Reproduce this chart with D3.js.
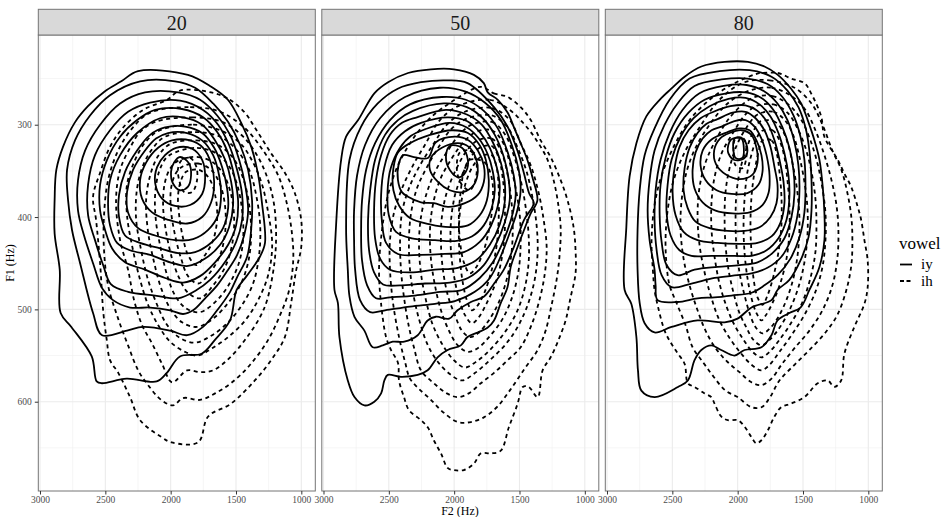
<!DOCTYPE html>
<html><head><meta charset="utf-8">
<script src="https://cdn.jsdelivr.net/npm/d3@7"></script>
<style>body{margin:0;background:#fff;}svg{display:block;font-family:"Liberation Serif","Times New Roman",serif;}</style>
</head><body><svg id="chart" width="949" height="517"></svg>
<script>
const facets = ["20","50","80"];
const vowels = ["iy","ih"];
const xTicks = [3000,2500,2000,1500,1000];
const yTicks = [300,400,500,600];
const xMinor = [2750,2250,1750,1250];
const yMinor = [250,350,450,550,650];

// contour rings [F2, F1] per facet & vowel
const iy20 = [
[[2250,242],[1868,246],[1689,259],[1562,273],[1460,298],[1383,324],[1332,353],[1301,385],[1278,428],[1317,443],[1419,464],[1495,479],[1546,512],[1661,533],[1763,548],[1929,551],[2031,569],[2107,578],[2337,575],[2528,580],[2566,578],[2604,551],[2760,519],[2842,504],[2849,457],[2888,418],[2888,381],[2875,349],[2824,324],[2735,298],[2633,280],[2505,264],[2378,253]],
[[2234,253],[1966,253],[1813,260],[1675,277],[1560,297],[1468,322],[1407,349],[1377,382],[1384,414],[1415,443],[1491,465],[1545,481],[1644,501],[1752,519],[1874,528],[2004,523],[2211,519],[2334,523],[2525,528],[2594,504],[2693,450],[2755,414],[2785,382],[2793,349],[2732,317],[2617,290],[2464,268]],
[[2196,265],[1943,265],[1775,273],[1644,290],[1545,311],[1476,338],[1430,365],[1407,393],[1438,420],[1491,441],[1560,457],[1644,474],[1736,488],[1828,501],[1905,505],[2004,501],[2157,498],[2311,498],[2441,490],[2525,477],[2594,450],[2663,420],[2709,393],[2709,360],[2655,328],[2540,300],[2387,277]],
[[2157,276],[1928,274],[1752,284],[1637,300],[1553,322],[1491,349],[1453,376],[1453,403],[1499,427],[1576,447],[1698,468],[1813,480],[1943,488],[2119,485],[2326,481],[2456,473],[2517,452],[2579,425],[2632,398],[2632,365],[2579,333],[2464,306],[2326,286]],
[[2119,284],[1913,283],[1752,292],[1644,308],[1568,328],[1514,355],[1484,382],[1499,409],[1560,430],[1660,449],[1775,464],[1905,471],[2043,466],[2196,457],[2349,449],[2448,434],[2502,414],[2540,393],[2540,365],[2487,338],[2387,313],[2257,295]],
[[2081,293],[1905,292],[1759,300],[1660,317],[1583,338],[1537,362],[1522,387],[1553,411],[1621,430],[1736,445],[1867,453],[2004,449],[2157,441],[2311,436],[2410,428],[2464,409],[2479,387],[2464,360],[2387,333],[2257,309]],
[[2043,303],[1890,302],[1759,309],[1667,325],[1606,346],[1568,369],[1560,390],[1599,412],[1683,427],[1813,438],[1943,439],[2081,434],[2234,428],[2349,420],[2395,400],[2395,376],[2349,351],[2257,328],[2157,311]],
[[2020,309],[1874,309],[1759,317],[1675,333],[1629,355],[1614,376],[1637,398],[1713,414],[1828,424],[1966,425],[2119,420],[2249,412],[2326,395],[2334,373],[2288,349],[2196,328],[2112,315]],
[[1989,317],[1851,317],[1752,325],[1690,342],[1667,362],[1690,384],[1759,400],[1874,407],[2020,403],[2142,395],[2219,380],[2234,360],[2188,341],[2096,325]],
[[1958,325],[1836,326],[1759,338],[1736,357],[1759,375],[1851,387],[1966,388],[2066,380],[2119,363],[2104,346],[2043,333]],
[[1928,335],[1859,342],[1844,355],[1867,367],[1928,371],[1981,364],[1997,351],[1974,341]]
];
const ih20 = [
[[1690,265],[1547,273],[1432,287],[1356,303],[1231,331],[1126,352],[1050,374],[1001,403],[1001,433],[1040,458],[1078,493],[1126,530],[1231,555],[1356,577],[1537,602],[1713,616],[1790,644],[1994,644],[2073,638],[2234,620],[2311,595],[2400,569],[2464,555],[2489,533],[2515,504],[2540,450],[2571,403],[2594,378],[2540,352],[2464,324],[2364,303],[2211,284],[2027,273],[1928,263]],
[[2157,287],[1851,281],[1621,286],[1430,304],[1292,328],[1177,355],[1108,387],[1070,420],[1062,447],[1093,479],[1162,506],[1254,533],[1392,560],[1530,579],[1660,591],[1775,598],[1905,596],[1981,604],[2073,598],[2173,582],[2249,566],[2326,539],[2402,510],[2479,474],[2510,436],[2510,398],[2479,360],[2402,328],[2295,304]],
[[2119,297],[1836,292],[1606,297],[1445,313],[1331,335],[1254,360],[1208,387],[1193,420],[1208,452],[1262,490],[1315,508],[1415,530],[1545,552],[1675,566],[1775,568],[1874,566],[1989,579],[2066,559],[2142,537],[2219,517],[2280,490],[2326,457],[2387,425],[2418,382],[2387,349],[2311,325],[2234,308]],
[[2081,306],[1828,300],[1621,306],[1468,320],[1369,341],[1300,365],[1254,395],[1223,430],[1254,463],[1331,490],[1430,512],[1560,530],[1683,542],[1790,550],[1890,546],[2004,535],[2096,517],[2173,495],[2234,468],[2288,436],[2334,398],[2334,365],[2272,338],[2188,318]],
[[2043,313],[1813,308],[1621,313],[1491,328],[1399,349],[1346,376],[1315,409],[1323,441],[1369,472],[1453,495],[1560,514],[1683,528],[1813,536],[1928,531],[2027,517],[2104,495],[2173,468],[2226,436],[2265,401],[2257,369],[2211,344],[2134,325]],
[[2004,321],[1805,317],[1637,322],[1522,336],[1445,358],[1399,387],[1384,420],[1407,449],[1468,474],[1560,493],[1675,510],[1798,519],[1913,514],[2004,499],[2073,477],[2127,449],[2173,416],[2188,382],[2157,355],[2096,334]],
[[1966,330],[1798,325],[1652,331],[1553,345],[1491,365],[1453,393],[1445,423],[1476,449],[1545,471],[1644,490],[1775,503],[1882,499],[1966,485],[2027,463],[2073,436],[2112,405],[2119,376],[2089,351],[2035,336]],
[[1928,338],[1790,335],[1675,341],[1591,355],[1537,376],[1514,403],[1530,430],[1583,454],[1675,474],[1775,488],[1867,482],[1935,466],[1989,445],[2035,416],[2058,387],[2043,362],[1997,346]],
[[1905,345],[1790,342],[1690,349],[1621,365],[1583,389],[1583,416],[1621,441],[1698,460],[1790,472],[1867,464],[1920,445],[1966,420],[1997,393],[1997,369],[1958,352]],
[[1882,351],[1782,349],[1706,358],[1660,376],[1644,401],[1675,425],[1736,441],[1805,452],[1867,441],[1905,423],[1935,398],[1943,376],[1920,360]],
[[1913,338],[1851,336],[1805,345],[1798,360],[1836,373],[1897,373],[1935,360],[1943,347]]
];
const iy50 = [
[[2916,479],[2903,407],[2865,338],[2827,313],[2735,295],[2611,266],[2506,254],[2353,244],[2178,240],[2002,240],[1849,246],[1773,255],[1743,265],[1666,273],[1590,287],[1542,303],[1491,320],[1440,338],[1401,357],[1363,382],[1414,396],[1465,414],[1516,433],[1567,454],[1592,476],[1643,493],[1695,512],[1745,520],[1821,525],[1898,530],[1949,539],[2050,544],[2127,552],[2203,566],[2279,571],[2407,573],[2508,571],[2534,577],[2559,591],[2611,600],[2687,604],[2763,595],[2814,577],[2878,530],[2890,493]],
[[2814,457],[2801,486],[2763,508],[2687,523],[2623,541],[2546,539],[2470,535],[2382,535],[2279,528],[2203,512],[2140,508],[2038,510],[1974,501],[1872,492],[1771,486],[1694,472],[1620,457],[1542,432],[1465,403],[1391,385],[1427,374],[1465,353],[1516,328],[1592,302],[1695,281],[1898,255],[2050,252],[2254,254],[2432,261],[2585,277],[2712,302],[2801,338],[2827,411]],
[[2376,270],[2109,260],[1918,264],[1766,276],[1643,295],[1559,322],[1506,349],[1491,371],[1521,395],[1582,420],[1651,445],[1727,466],[1842,481],[1995,491],[2147,494],[2338,497],[2529,501],[2643,503],[2720,490],[2758,457],[2766,425],[2766,393],[2743,355],[2682,322],[2567,293]],
[[2338,278],[2094,270],[1911,273],[1773,285],[1666,304],[1590,330],[1544,355],[1529,376],[1559,400],[1621,425],[1704,449],[1804,466],[1941,479],[2109,481],[2300,485],[2491,487],[2598,488],[2666,474],[2705,447],[2712,414],[2705,382],[2674,349],[2605,320],[2491,295]],
[[2315,285],[2079,277],[1903,281],[1781,293],[1689,311],[1620,335],[1582,360],[1575,382],[1613,406],[1682,430],[1773,452],[1895,466],[2033,471],[2224,472],[2414,474],[2544,473],[2613,460],[2651,436],[2659,403],[2643,371],[2605,338],[2529,311],[2430,295]],
[[2285,292],[2063,284],[1903,289],[1789,300],[1704,319],[1643,341],[1613,362],[1613,384],[1651,408],[1727,430],[1834,447],[1972,455],[2147,457],[2338,460],[2491,457],[2567,445],[2605,423],[2613,393],[2598,360],[2559,333],[2491,311],[2399,298]],
[[2254,298],[2048,292],[1903,296],[1804,308],[1727,325],[1674,346],[1651,367],[1666,388],[1720,410],[1804,427],[1926,438],[2071,440],[2262,441],[2430,440],[2521,428],[2552,406],[2559,376],[2536,347],[2475,322],[2376,307]],
[[2224,305],[2033,298],[1903,303],[1811,315],[1743,332],[1704,351],[1689,371],[1712,390],[1773,409],[1865,421],[1995,426],[2147,425],[2323,423],[2445,416],[2500,398],[2510,373],[2485,347],[2414,325],[2330,312]],
[[2185,311],[2017,306],[1895,309],[1811,321],[1758,338],[1735,360],[1750,382],[1804,398],[1895,409],[2033,411],[2185,408],[2338,401],[2420,388],[2465,371],[2465,347],[2430,330],[2338,320]],
[[2140,319],[1995,313],[1888,317],[1819,328],[1773,344],[1773,362],[1819,376],[1918,385],[2048,389],[2155,385],[2254,384],[2353,378],[2400,373],[2430,360],[2425,343],[2390,333],[2308,335],[2201,336]],
[[2094,325],[1972,320],[1888,324],[1834,336],[1819,351],[1849,365],[1934,373],[2033,371],[2124,362],[2185,349],[2178,336]],
[[2033,323],[1941,325],[1895,338],[1911,351],[1964,357],[2033,349],[2063,335]]
];
const ih50 = [
[[1796,259],[1697,266],[1590,270],[1491,281],[1414,295],[1338,317],[1262,335],[1185,360],[1132,382],[1086,411],[1071,436],[1071,461],[1109,487],[1147,512],[1201,533],[1262,552],[1323,566],[1361,595],[1430,584],[1475,584],[1514,602],[1582,628],[1643,653],[1720,656],[1796,656],[1849,667],[1926,674],[2002,674],[2048,672],[2101,656],[2155,642],[2201,628],[2254,620],[2346,609],[2384,595],[2422,577],[2430,558],[2483,544],[2521,530],[2560,493],[2575,457],[2552,414],[2506,376],[2430,344],[2323,317],[2185,293],[1995,273]],
[[1956,279],[1727,273],[1575,284],[1460,300],[1369,317],[1285,338],[1239,360],[1208,382],[1185,411],[1193,441],[1216,468],[1254,495],[1300,523],[1361,544],[1460,564],[1575,588],[1674,606],[1773,617],[1872,622],[1972,622],[2079,612],[2178,598],[2277,585],[2338,575],[2376,557],[2422,530],[2468,493],[2491,457],[2491,425],[2460,395],[2399,369],[2315,344],[2224,322],[2109,295]],
[[1918,286],[1712,282],[1575,295],[1491,320],[1414,344],[1353,374],[1315,403],[1292,433],[1308,463],[1353,493],[1414,519],[1491,541],[1590,555],[1697,569],[1796,580],[1888,591],[1972,595],[2056,591],[2155,580],[2254,566],[2308,541],[2346,519],[2384,487],[2407,457],[2414,425],[2399,395],[2346,369],[2262,344],[2163,322],[2056,300]],
[[1895,293],[1712,290],[1590,303],[1514,325],[1445,351],[1399,380],[1369,409],[1361,438],[1384,468],[1437,495],[1514,519],[1613,539],[1727,555],[1842,569],[1941,577],[2033,570],[2124,557],[2201,539],[2262,514],[2308,487],[2338,457],[2346,425],[2330,396],[2285,369],[2201,344],[2109,322],[2017,304]],
[[1865,300],[1712,297],[1613,310],[1544,333],[1491,360],[1453,389],[1430,420],[1430,449],[1460,477],[1521,503],[1613,525],[1727,544],[1834,557],[1918,563],[2002,555],[2086,539],[2163,517],[2216,490],[2254,461],[2269,430],[2254,400],[2208,373],[2132,347],[2048,328],[1956,310]],
[[1834,308],[1712,306],[1628,319],[1575,341],[1529,369],[1498,398],[1491,428],[1506,457],[1552,485],[1628,510],[1727,529],[1819,542],[1895,546],[1972,539],[2040,523],[2101,501],[2147,474],[2178,445],[2185,414],[2163,387],[2109,360],[2025,338],[1934,320]],
[[1819,317],[1712,315],[1643,328],[1598,349],[1567,376],[1552,405],[1559,436],[1590,463],[1651,490],[1735,512],[1819,526],[1880,530],[1941,523],[1995,506],[2048,485],[2086,457],[2101,428],[2094,400],[2056,373],[1987,349],[1903,328]],
[[1804,325],[1712,323],[1659,336],[1628,358],[1613,387],[1613,416],[1636,445],[1682,471],[1750,493],[1819,510],[1865,515],[1918,506],[1964,488],[2002,463],[2025,436],[2025,406],[1995,377],[1941,355],[1872,335]],
[[1788,334],[1712,333],[1674,347],[1659,371],[1659,401],[1674,430],[1712,457],[1766,481],[1827,497],[1865,501],[1903,490],[1934,471],[1956,445],[1964,416],[1949,387],[1911,363],[1857,345]],
[[1880,338],[1766,341],[1712,358],[1704,382],[1727,409],[1773,436],[1834,455],[1880,461],[1926,449],[1956,425],[1964,398],[1949,371],[1926,351]],
[[1956,330],[1880,328],[1834,338],[1834,358],[1880,371],[1941,365],[1979,349]]
];
const iy80 = [
[[2865,479],[2852,411],[2827,356],[2775,320],[2699,291],[2597,273],[2508,261],[2406,248],[2278,237],[2100,232],[1922,232],[1795,237],[1693,246],[1591,261],[1514,277],[1464,295],[1412,317],[1374,338],[1349,367],[1336,396],[1336,425],[1374,454],[1451,479],[1519,498],[1604,504],[1695,512],[1741,528],[1818,541],[1947,544],[2024,550],[2126,544],[2202,539],[2278,544],[2330,555],[2381,577],[2457,584],[2635,595],[2737,588],[2763,566],[2775,530],[2814,494]],
[[2368,250],[2139,242],[1909,241],[1741,248],[1619,263],[1535,281],[1481,303],[1451,328],[1435,360],[1435,393],[1458,422],[1519,447],[1604,468],[1695,479],[1741,490],[1894,498],[2001,510],[2100,514],[2307,512],[2506,519],[2636,525],[2712,515],[2750,493],[2766,457],[2766,414],[2750,371],[2712,333],[2636,304],[2521,273]],
[[2330,258],[2123,251],[1925,250],[1772,256],[1657,270],[1573,290],[1519,313],[1489,338],[1481,365],[1489,395],[1527,422],[1596,445],[1695,463],[1795,474],[1894,482],[2047,485],[2177,487],[2307,488],[2460,492],[2613,490],[2628,474],[2636,457],[2674,425],[2689,393],[2674,360],[2636,328],[2559,300],[2460,277]],
[[2292,266],[2108,258],[1932,257],[1795,264],[1695,277],[1619,295],[1565,319],[1535,344],[1527,371],[1542,398],[1588,423],[1665,443],[1772,455],[1894,461],[2001,463],[2177,466],[2353,472],[2506,476],[2582,463],[2620,436],[2636,403],[2628,371],[2590,338],[2521,309],[2422,284]],
[[2253,273],[2085,266],[1940,265],[1818,271],[1726,284],[1657,303],[1604,325],[1573,349],[1565,374],[1588,400],[1642,423],[1734,439],[1848,449],[1986,452],[2154,454],[2330,457],[2460,463],[2544,452],[2582,427],[2597,398],[2590,365],[2552,336],[2483,309],[2376,287]],
[[2215,280],[2070,272],[1940,271],[1833,278],[1749,291],[1688,309],[1642,331],[1611,355],[1604,378],[1626,403],[1688,423],[1779,436],[1894,442],[2024,442],[2200,442],[2353,442],[2445,436],[2513,420],[2544,395],[2536,365],[2506,338],[2437,313],[2337,293]],
[[2184,286],[2055,280],[1940,279],[1848,285],[1772,298],[1718,317],[1680,338],[1649,362],[1642,385],[1672,406],[1741,421],[1848,428],[1986,429],[2154,428],[2307,425],[2414,416],[2475,398],[2498,373],[2483,347],[2445,324],[2376,306],[2284,293]],
[[2154,294],[2039,287],[1940,286],[1863,293],[1795,306],[1749,324],[1718,346],[1695,365],[1703,385],[1749,400],[1833,411],[1947,415],[2077,415],[2215,412],[2322,405],[2383,390],[2414,371],[2406,347],[2368,325],[2307,309],[2238,299]],
[[2123,302],[2024,296],[1940,295],[1871,302],[1818,315],[1779,333],[1756,355],[1764,374],[1810,387],[1909,395],[2039,396],[2169,393],[2268,384],[2330,369],[2345,349],[2322,330],[2268,315],[2200,306]],
[[2077,308],[1986,304],[1909,306],[1856,317],[1818,333],[1810,351],[1841,365],[1925,374],[2047,375],[2161,371],[2246,360],[2284,344],[2268,328],[2200,316]],
[[2062,309],[1970,306],[1895,311],[1856,325],[1848,341],[1886,354],[1986,359],[2090,354],[2165,343],[2180,328],[2135,315]],
[[2050,316],[1960,315],[1925,328],[1955,337],[2030,338],[2075,329]],
[[2024,315],[1970,315],[1963,336],[2016,336]]
];
const ih80 = [
[[1820,244],[1693,244],[1591,250],[1489,255],[1438,266],[1361,291],[1336,313],[1234,338],[1183,353],[1132,367],[1081,389],[1055,403],[1030,425],[1005,447],[1005,476],[1030,494],[1107,519],[1183,548],[1208,577],[1260,584],[1311,577],[1387,580],[1489,595],[1591,602],[1667,606],[1718,616],[1769,631],[1820,642],[1858,645],[1896,638],[1947,627],[1999,620],[2075,620],[2126,616],[2177,602],[2202,595],[2253,591],[2330,584],[2381,580],[2406,559],[2457,548],[2508,537],[2559,523],[2610,497],[2636,479],[2649,457],[2659,425],[2636,387],[2582,355],[2483,322],[2368,295],[2215,273],[2024,255],[1833,244]],
[[1947,254],[1756,252],[1565,260],[1435,277],[1351,300],[1275,328],[1206,349],[1160,374],[1130,400],[1122,425],[1130,452],[1168,479],[1237,506],[1328,525],[1451,544],[1565,560],[1680,577],[1756,596],[1818,606],[1894,606],[2001,595],[2093,588],[2184,573],[2261,558],[2345,541],[2399,517],[2468,493],[2521,474],[2544,452],[2552,425],[2536,393],[2490,360],[2406,330],[2292,303],[2139,273]],
[[1909,263],[1741,260],[1588,269],[1481,284],[1405,306],[1336,333],[1282,360],[1244,387],[1229,414],[1237,445],[1275,474],[1351,501],[1451,523],[1565,542],[1665,560],[1741,575],[1818,582],[1894,579],[1986,568],[2077,557],[2169,542],[2246,523],[2307,501],[2368,474],[2414,445],[2437,414],[2429,382],[2391,351],[2322,325],[2215,300],[2077,277]],
[[1886,271],[1733,269],[1604,279],[1512,295],[1443,317],[1389,342],[1351,369],[1328,396],[1328,425],[1351,454],[1405,481],[1489,506],[1588,528],[1680,546],[1756,560],[1818,566],[1894,560],[1978,547],[2062,531],[2139,512],[2200,488],[2253,460],[2292,430],[2307,398],[2292,368],[2246,341],[2169,317],[2047,290]],
[[1863,280],[1726,278],[1619,287],[1542,304],[1481,325],[1435,351],[1405,380],[1397,409],[1405,438],[1443,466],[1504,492],[1588,514],[1680,533],[1756,546],[1818,552],[1886,546],[1955,533],[2024,517],[2085,497],[2139,472],[2177,443],[2200,414],[2200,384],[2177,357],[2123,331],[2032,308],[1947,290]],
[[1848,289],[1726,286],[1634,296],[1573,312],[1527,335],[1489,362],[1466,390],[1466,420],[1489,449],[1535,476],[1604,501],[1680,520],[1756,533],[1818,539],[1879,533],[1932,520],[1986,504],[2032,482],[2070,457],[2093,430],[2100,401],[2093,373],[2062,347],[2009,323],[1932,303]],
[[1833,297],[1726,296],[1657,306],[1611,323],[1573,347],[1542,374],[1527,403],[1535,433],[1565,461],[1619,487],[1688,508],[1756,521],[1810,526],[1864,519],[1909,504],[1947,485],[1986,460],[2009,433],[2016,403],[2009,374],[1978,347],[1925,323],[1879,307]],
[[1818,307],[1733,306],[1680,317],[1642,335],[1619,360],[1604,387],[1604,416],[1626,445],[1672,471],[1733,493],[1787,507],[1818,512],[1856,504],[1894,488],[1925,466],[1947,439],[1955,410],[1947,380],[1925,351],[1886,328],[1856,315]],
[[1810,317],[1741,317],[1703,330],[1680,351],[1665,378],[1665,409],[1688,438],[1726,464],[1772,485],[1810,495],[1848,487],[1879,466],[1894,439],[1902,409],[1894,378],[1871,351],[1841,330]],
[[2016,315],[1955,315],[1932,333],[1963,347],[2016,344],[2032,328]]
];

const contourData = {
  "20": {iy: iy20, ih: ih20},
  "50": {iy: iy50, ih: ih50},
  "80": {iy: iy80, ih: ih80}
};
const lineStyle = {iy: null, ih: "4,3.6"};

const svg = d3.select("#chart");
const panelW = 277, panelTop = 35, panelBottom = 491, stripTop = 9.3;
const panelLeft = [38.3, 321.8, 605.3];
const x = d3.scaleLinear().domain([3013, 893]).range([0, panelW]);
const y = d3.scaleLinear().domain([202.85, 696.7]).range([panelTop, panelBottom]);
const ring = d3.line().x(d => x(d[0])).y(d => y(d[1])).curve(d3.curveCatmullRomClosed.alpha(0.5));
const borderCol = "#747474";

facets.forEach((f, i) => {
  const g = svg.append("g").attr("transform", `translate(${panelLeft[i]},0)`);
  g.append("rect").attr("x", 0).attr("y", panelTop).attr("width", panelW).attr("height", panelBottom - panelTop).attr("fill", "#fff");
  const grid = g.append("g");
  xMinor.forEach(v => grid.append("line").attr("x1", x(v)).attr("x2", x(v)).attr("y1", panelTop).attr("y2", panelBottom).attr("stroke", "#F0F0F0").attr("stroke-width", 0.6));
  yMinor.forEach(v => grid.append("line").attr("x1", 0).attr("x2", panelW).attr("y1", y(v)).attr("y2", y(v)).attr("stroke", "#F0F0F0").attr("stroke-width", 0.6));
  xTicks.forEach(v => grid.append("line").attr("x1", x(v)).attr("x2", x(v)).attr("y1", panelTop).attr("y2", panelBottom).attr("stroke", "#EBEBEB").attr("stroke-width", 1.1));
  yTicks.forEach(v => grid.append("line").attr("x1", 0).attr("x2", panelW).attr("y1", y(v)).attr("y2", y(v)).attr("stroke", "#EBEBEB").attr("stroke-width", 1.1));

  const cid = "clip" + i;
  g.append("clipPath").attr("id", cid).append("rect").attr("x", 0).attr("y", panelTop).attr("width", panelW).attr("height", panelBottom - panelTop);
  const cg = g.append("g").attr("clip-path", `url(#${cid})`);
  vowels.forEach(v => {
    cg.selectAll(null).data(contourData[f][v]).enter().append("path")
      .attr("d", ring)
      .attr("fill", "none")
      .attr("stroke", "#000")
      .attr("stroke-width", 1.8)
      .attr("stroke-dasharray", lineStyle[v]);
  });

  g.append("rect").attr("x", 0).attr("y", panelTop).attr("width", panelW).attr("height", panelBottom - panelTop)
    .attr("fill", "none").attr("stroke", borderCol).attr("stroke-width", 1);
  g.append("rect").attr("x", 0).attr("y", stripTop).attr("width", panelW).attr("height", panelTop - stripTop)
    .attr("fill", "#D9D9D9").attr("stroke", borderCol).attr("stroke-width", 1);
  g.append("text").attr("x", panelW / 2).attr("y", 29.5).attr("text-anchor", "middle")
    .attr("font-size", 20).attr("fill", "#1A1A1A").text(f);

  const xa = g.append("g").attr("transform", `translate(0,${panelBottom})`)
    .call(d3.axisBottom(x).tickValues(xTicks).tickSize(3.5).tickPadding(2.2).tickFormat(d3.format("d")));
  xa.select(".domain").remove();
  xa.selectAll(".tick line").attr("stroke", "#333");
  xa.selectAll(".tick text").attr("font-size", 9.5).attr("fill", "#4D4D4D").attr("font-family", "Liberation Serif, serif");

  if (i === 0) {
    const ya = g.append("g").call(d3.axisLeft(y).tickValues(yTicks).tickSize(3.5).tickPadding(3));
    ya.select(".domain").remove();
    ya.selectAll(".tick line").attr("stroke", "#333");
    ya.selectAll(".tick text").attr("font-size", 9.5).attr("fill", "#4D4D4D").attr("font-family", "Liberation Serif, serif");
  }
});

svg.append("text").attr("x", 460).attr("y", 515).attr("text-anchor", "middle").attr("font-size", 12).attr("fill", "#000").text("F2 (Hz)");
svg.append("text").attr("transform", "translate(13.5,263) rotate(-90)").attr("text-anchor", "middle").attr("font-size", 12).attr("fill", "#000").text("F1 (Hz)");

// legend
const lg = svg.append("g");
lg.append("text").attr("x", 899).attr("y", 248.5).attr("font-size", 17).attr("fill", "#000").text("vowel");
vowels.forEach((v, k) => {
  const yy = 264.5 + k * 16.5;
  lg.append("line").attr("x1", 900).attr("x2", 912).attr("y1", yy).attr("y2", yy)
    .attr("stroke", "#000").attr("stroke-width", 1.8).attr("stroke-dasharray", v === "ih" ? "4,2.5" : null);
  lg.append("text").attr("x", 921).attr("y", yy + 4.5).attr("font-size", 15).attr("fill", "#000").text(v);
});
</script></body></html>
